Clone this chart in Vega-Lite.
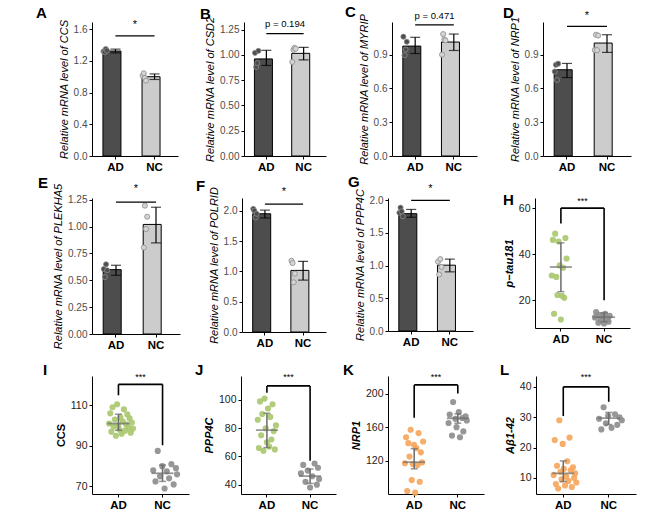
{
"$schema":"https://vega.github.io/schema/vega-lite/v6.json",
"background":"white",
"padding":{"left":36,"top":5,"right":4,"bottom":2},
"config":{
"font":"Liberation Sans",
"view":{"stroke":null},
"axis":{"grid":false,"domainColor":"black","domainWidth":1,"tickColor":"black","tickWidth":1,"tickSize":3,"labelColor":"#4d4d4d","labelFontSize":10,"labelPadding":2,"labelOverlap":false,"titleColor":"black","titleFontSize":11},
"axisX":{"labelAngle":0,"labelColor":"black","labelFontWeight":"bold","labelFontSize":11.5,"labelPadding":2},
"axisY":{"titleFontStyle":"italic","titleFontWeight":"normal","titlePadding":4},
"title":{"anchor":"start","frame":"group","fontSize":15,"fontWeight":"bold","color":"black","offset":3}
},
"datasets":{
"pts":[
{"p":"A","g":"AD","s":1,"v":1.32},{"p":"A","g":"AD","s":2,"v":1.31},{"p":"A","g":"AD","s":3,"v":1.35},{"p":"A","g":"AD","s":4,"v":1.33},
{"p":"A","g":"NC","s":1,"v":1.013},{"p":"A","g":"NC","s":2,"v":1.043},{"p":"A","g":"NC","s":3,"v":0.984},{"p":"A","g":"NC","s":4,"v":0.95},
{"p":"B","g":"AD","s":1,"v":1.02},{"p":"B","g":"AD","s":2,"v":0.88},{"p":"B","g":"AD","s":3,"v":0.92},{"p":"B","g":"AD","s":4,"v":1.04},
{"p":"B","g":"NC","s":1,"v":0.93},{"p":"B","g":"NC","s":2,"v":1.05},{"p":"B","g":"NC","s":3,"v":1.07},{"p":"B","g":"NC","s":4,"v":1.06},
{"p":"C","g":"AD","s":1,"v":1.06},{"p":"C","g":"AD","s":2,"v":0.895},{"p":"C","g":"AD","s":3,"v":0.946},{"p":"C","g":"AD","s":4,"v":1.015},
{"p":"C","g":"NC","s":1,"v":0.9},{"p":"C","g":"NC","s":2,"v":1.083},{"p":"C","g":"NC","s":3,"v":1.036},{"p":"C","g":"NC","s":4,"v":1.027},
{"p":"D","g":"AD","s":1,"v":0.75},{"p":"D","g":"AD","s":2,"v":0.81},{"p":"D","g":"AD","s":3,"v":0.675},{"p":"D","g":"AD","s":4,"v":0.82},
{"p":"D","g":"NC","s":1,"v":0.94},{"p":"D","g":"NC","s":2,"v":1.077},{"p":"D","g":"NC","s":3,"v":0.94},{"p":"D","g":"NC","s":4,"v":1.07},
{"p":"E","g":"AD","s":1,"v":0.605},{"p":"E","g":"AD","s":2,"v":0.53},{"p":"E","g":"AD","s":3,"v":0.649},{"p":"E","g":"AD","s":4,"v":0.593},
{"p":"E","g":"NC","s":1,"v":0.805},{"p":"E","g":"NC","s":2,"v":1.195},{"p":"E","g":"NC","s":3,"v":0.977},{"p":"E","g":"NC","s":4,"v":1.092},
{"p":"F","g":"AD","s":1,"v":2.03},{"p":"F","g":"AD","s":2,"v":2.0},{"p":"F","g":"AD","s":3,"v":1.89},{"p":"F","g":"AD","s":4,"v":1.95},
{"p":"F","g":"NC","s":1,"v":1.176},{"p":"F","g":"NC","s":2,"v":1.137},{"p":"F","g":"NC","s":3,"v":0.82},{"p":"F","g":"NC","s":4,"v":0.962},
{"p":"G","g":"AD","s":1,"v":1.81},{"p":"G","g":"AD","s":2,"v":1.887},{"p":"G","g":"AD","s":3,"v":1.83},{"p":"G","g":"AD","s":4,"v":1.756},
{"p":"G","g":"NC","s":1,"v":1.06},{"p":"G","g":"NC","s":2,"v":0.865},{"p":"G","g":"NC","s":3,"v":1.1},{"p":"G","g":"NC","s":4,"v":0.98},
{"p":"H","g":"AD","s":1,"v":30.7},{"p":"H","g":"AD","s":2,"v":46.2},{"p":"H","g":"AD","s":3,"v":14.1},{"p":"H","g":"AD","s":4,"v":48.9},{"p":"H","g":"AD","s":5,"v":30.1},{"p":"H","g":"AD","s":6,"v":22.2},{"p":"H","g":"AD","s":7,"v":45.5},{"p":"H","g":"AD","s":8,"v":35.1},{"p":"H","g":"AD","s":9,"v":11.6},{"p":"H","g":"AD","s":10,"v":21.9},{"p":"H","g":"AD","s":11,"v":34.1},{"p":"H","g":"AD","s":12,"v":21},{"p":"H","g":"AD","s":13,"v":47},{"p":"H","g":"AD","s":14,"v":38.1},
{"p":"H","g":"NC","s":1,"v":12.5},{"p":"H","g":"NC","s":2,"v":14.8},{"p":"H","g":"NC","s":4,"v":10.2},{"p":"H","g":"NC","s":5,"v":13.6},{"p":"H","g":"NC","s":6,"v":11.4},{"p":"H","g":"NC","s":8,"v":12.9},{"p":"H","g":"NC","s":9,"v":9.9},{"p":"H","g":"NC","s":10,"v":14.1},{"p":"H","g":"NC","s":12,"v":11.8},{"p":"H","g":"NC","s":13,"v":10.6},{"p":"H","g":"NC","s":14,"v":13.2},
{"p":"I","g":"AD","s":1,"v":101},{"p":"I","g":"AD","s":2,"v":106},{"p":"I","g":"AD","s":3,"v":97},{"p":"I","g":"AD","s":4,"v":109},{"p":"I","g":"AD","s":5,"v":99.5},{"p":"I","g":"AD","s":6,"v":103},{"p":"I","g":"AD","s":7,"v":95},{"p":"I","g":"AD","s":8,"v":110.5},{"p":"I","g":"AD","s":9,"v":100},{"p":"I","g":"AD","s":10,"v":98},{"p":"I","g":"AD","s":11,"v":104},{"p":"I","g":"AD","s":12,"v":96},{"p":"I","g":"AD","s":13,"v":102},{"p":"I","g":"AD","s":14,"v":108},{"p":"I","g":"AD","s":15,"v":97.5},{"p":"I","g":"AD","s":16,"v":100.5},{"p":"I","g":"AD","s":17,"v":105.5},{"p":"I","g":"AD","s":18,"v":99},{"p":"I","g":"AD","s":19,"v":103.5},{"p":"I","g":"AD","s":20,"v":96.5},{"p":"I","g":"AD","s":21,"v":101.5},{"p":"I","g":"AD","s":22,"v":98.5},
{"p":"I","g":"NC","s":1,"v":78},{"p":"I","g":"NC","s":3,"v":72.5},{"p":"I","g":"NC","s":5,"v":87.5},{"p":"I","g":"NC","s":7,"v":75},{"p":"I","g":"NC","s":9,"v":80},{"p":"I","g":"NC","s":11,"v":69},{"p":"I","g":"NC","s":13,"v":77.5},{"p":"I","g":"NC","s":15,"v":74},{"p":"I","g":"NC","s":17,"v":81},{"p":"I","g":"NC","s":19,"v":71},{"p":"I","g":"NC","s":21,"v":79},{"p":"I","g":"NC","s":22,"v":76},
{"p":"J","g":"AD","s":1,"v":86},{"p":"J","g":"AD","s":2,"v":66},{"p":"J","g":"AD","s":3,"v":99},{"p":"J","g":"AD","s":4,"v":75},{"p":"J","g":"AD","s":5,"v":90},{"p":"J","g":"AD","s":6,"v":64},{"p":"J","g":"AD","s":7,"v":101},{"p":"J","g":"AD","s":8,"v":80},{"p":"J","g":"AD","s":9,"v":70},{"p":"J","g":"AD","s":10,"v":94},{"p":"J","g":"AD","s":11,"v":67},{"p":"J","g":"AD","s":12,"v":88},{"p":"J","g":"AD","s":13,"v":72},{"p":"J","g":"AD","s":14,"v":97},{"p":"J","g":"AD","s":15,"v":78},{"p":"J","g":"AD","s":16,"v":65},{"p":"J","g":"AD","s":17,"v":82},
{"p":"J","g":"NC","s":1,"v":48},{"p":"J","g":"NC","s":3,"v":54},{"p":"J","g":"NC","s":5,"v":42},{"p":"J","g":"NC","s":7,"v":50},{"p":"J","g":"NC","s":9,"v":38},{"p":"J","g":"NC","s":11,"v":46},{"p":"J","g":"NC","s":13,"v":55},{"p":"J","g":"NC","s":15,"v":40},{"p":"J","g":"NC","s":16,"v":52},{"p":"J","g":"NC","s":17,"v":44},
{"p":"K","g":"AD","s":1,"v":117},{"p":"K","g":"AD","s":2,"v":148},{"p":"K","g":"AD","s":3,"v":84},{"p":"K","g":"AD","s":4,"v":141},{"p":"K","g":"AD","s":5,"v":125},{"p":"K","g":"AD","s":6,"v":157},{"p":"K","g":"AD","s":7,"v":97},{"p":"K","g":"AD","s":8,"v":116},{"p":"K","g":"AD","s":9,"v":139},{"p":"K","g":"AD","s":10,"v":82},{"p":"K","g":"AD","s":11,"v":135},{"p":"K","g":"AD","s":12,"v":115},{"p":"K","g":"AD","s":13,"v":153},{"p":"K","g":"AD","s":14,"v":95},{"p":"K","g":"AD","s":15,"v":130},{"p":"K","g":"AD","s":16,"v":118},{"p":"K","g":"AD","s":17,"v":143},
{"p":"K","g":"NC","s":1,"v":165},{"p":"K","g":"NC","s":2,"v":175},{"p":"K","g":"NC","s":4,"v":150},{"p":"K","g":"NC","s":5,"v":190},{"p":"K","g":"NC","s":7,"v":170},{"p":"K","g":"NC","s":8,"v":160},{"p":"K","g":"NC","s":10,"v":178},{"p":"K","g":"NC","s":11,"v":148},{"p":"K","g":"NC","s":13,"v":171},{"p":"K","g":"NC","s":14,"v":155},{"p":"K","g":"NC","s":16,"v":173},{"p":"K","g":"NC","s":17,"v":168},
{"p":"L","g":"AD","s":1,"v":11},{"p":"L","g":"AD","s":2,"v":22.5},{"p":"L","g":"AD","s":3,"v":8},{"p":"L","g":"AD","s":4,"v":14},{"p":"L","g":"AD","s":5,"v":6.5},{"p":"L","g":"AD","s":6,"v":29},{"p":"L","g":"AD","s":7,"v":12},{"p":"L","g":"AD","s":8,"v":9.5},{"p":"L","g":"AD","s":9,"v":21.2},{"p":"L","g":"AD","s":10,"v":13},{"p":"L","g":"AD","s":11,"v":7.5},{"p":"L","g":"AD","s":12,"v":10.5},{"p":"L","g":"AD","s":13,"v":15.5},{"p":"L","g":"AD","s":14,"v":9},{"p":"L","g":"AD","s":15,"v":23.3},{"p":"L","g":"AD","s":16,"v":12.5},{"p":"L","g":"AD","s":17,"v":7},{"p":"L","g":"AD","s":18,"v":13.5},{"p":"L","g":"AD","s":19,"v":10},{"p":"L","g":"AD","s":20,"v":11.5},{"p":"L","g":"AD","s":21,"v":8.5},
{"p":"L","g":"NC","s":1,"v":29.5},{"p":"L","g":"NC","s":3,"v":26},{"p":"L","g":"NC","s":5,"v":33.3},{"p":"L","g":"NC","s":7,"v":28},{"p":"L","g":"NC","s":9,"v":30.5},{"p":"L","g":"NC","s":12,"v":26.5},{"p":"L","g":"NC","s":15,"v":31},{"p":"L","g":"NC","s":17,"v":27.5},{"p":"L","g":"NC","s":19,"v":30},{"p":"L","g":"NC","s":21,"v":29}
],
"sum":[
{"p":"A","g":"AD","m":1.324,"lo":1.3,"hi":1.348},{"p":"A","g":"NC","m":1.0,"lo":0.965,"hi":1.035},
{"p":"B","g":"AD","m":0.96,"lo":0.895,"hi":1.045},{"p":"B","g":"NC","m":1.015,"lo":0.95,"hi":1.075},
{"p":"C","g":"AD","m":0.976,"lo":0.91,"hi":1.054},{"p":"C","g":"NC","m":1.012,"lo":0.937,"hi":1.083},
{"p":"D","g":"AD","m":0.766,"lo":0.697,"hi":0.822},{"p":"D","g":"NC","m":1.003,"lo":0.92,"hi":1.077},
{"p":"E","g":"AD","m":0.599,"lo":0.546,"hi":0.64},{"p":"E","g":"NC","m":1.02,"lo":0.848,"hi":1.18},
{"p":"F","g":"AD","m":1.95,"lo":1.88,"hi":2.01},{"p":"F","g":"NC","m":1.016,"lo":0.857,"hi":1.165},
{"p":"G","g":"AD","m":1.795,"lo":1.74,"hi":1.86},{"p":"G","g":"NC","m":1.007,"lo":0.905,"hi":1.1},
{"p":"H","g":"AD","m":34.4,"lo":23.7,"hi":44.9},{"p":"H","g":"NC","m":12.6,"lo":10.6,"hi":14.5},
{"p":"I","g":"AD","m":101,"lo":97.7,"hi":105.6},{"p":"I","g":"NC","m":76.5,"lo":72.5,"hi":80.5},
{"p":"J","g":"AD","m":78.6,"lo":66.3,"hi":90.6},{"p":"J","g":"NC","m":46.1,"lo":40.9,"hi":51.1},
{"p":"K","g":"AD","m":118.3,"lo":110.4,"hi":134.4},{"p":"K","g":"NC","m":170.6,"lo":164.7,"hi":175.9},
{"p":"L","g":"AD","m":11.5,"lo":8.8,"hi":15.6},{"p":"L","g":"NC","m":29.7,"lo":27.6,"hi":31.6}
],
"sig":[
{"p":"A","g":"AD","g2":"NC","y":1.516,"ty":1.652,"label":"*"},
{"p":"B","g":"AD","g2":"NC","y":1.21,"ty":1.31,"label":"p = 0.194"},
{"p":"C","g":"AD","g2":"NC","y":1.164,"ty":1.243,"label":"p = 0.471"},
{"p":"D","g":"AD","g2":"NC","y":1.151,"ty":1.24,"label":"*"},
{"p":"E","g":"AD","g2":"NC","y":1.227,"ty":1.351,"label":"*"},
{"p":"F","g":"AD","g2":"NC","y":2.11,"ty":2.306,"label":"*"},
{"p":"G","g":"AD","g2":"NC","y":2.0,"ty":2.168,"label":"*"},
{"p":"H","g":"AD","g2":"NC","y":60,"yl":53.3,"yr":20,"ty":63,"label":"***"},
{"p":"I","g":"AD","g2":"NC","y":120.3,"yl":114.9,"yr":90.3,"ty":123.9,"label":"***"},
{"p":"J","g":"AD","g2":"NC","y":110,"yl":105.2,"yr":57,"ty":116.2,"label":"***"},
{"p":"K","g":"AD","g2":"NC","y":210.4,"yl":171.2,"yr":200,"ty":220,"label":"***"},
{"p":"L","g":"AD","g2":"NC","y":40,"yl":30.4,"yr":35.1,"ty":43.3,"label":"***"}
]
},
"spacing":2,
"resolve":{"scale":{"x":"independent","y":"independent","color":"independent","fill":"independent"}},
"vconcat":[
{"hconcat":[
{"width":86,"height":134,"title":{"text":"A","dx":-56,"offset":-2.3},"layer":[
{"data":{"name":"sum"},"transform":[{"filter":"datum.p==='A'"}],"mark":{"type":"bar","stroke":"black","strokeWidth":1},"encoding":{"x":{"field":"g","type":"nominal","scale":{"domain":["AD","NC"],"paddingInner":0.36,"paddingOuter":0.28},"axis":{"title":null}},"y":{"field":"m","type":"quantitative","scale":{"domain":[0,1.69],"nice":false,"zero":false},"axis":{"title":"Relative mRNA level of CCS","values":[0,0.4,0.8,1.2,1.6],"format":".1f","tickCount":12}},"fill":{"field":"g","type":"nominal","scale":{"domain":["AD","NC"],"range":["#4d4d4d","#cccccc"]},"legend":null}}},
{"data":{"name":"pts"},"transform":[{"filter":"datum.p==='A'"}],"mark":{"type":"point","filled":true,"size":26,"stroke":"#8c8c8c","strokeWidth":0.8,"opacity":1},"encoding":{"x":{"field":"g","type":"nominal"},"xOffset":{"field":"s","type":"ordinal"},"y":{"field":"v","type":"quantitative"},"color":{"field":"g","type":"nominal","scale":{"domain":["AD","NC"],"range":["#4d4d4d","#d4d4d4"]},"legend":null}}},
{"data":{"name":"sum"},"transform":[{"filter":"datum.p==='A'"}],"mark":{"type":"rule","color":"black","strokeWidth":1.2},"encoding":{"x":{"field":"g","type":"nominal"},"y":{"field":"lo","type":"quantitative"},"y2":{"field":"hi"}}},
{"data":{"name":"sum"},"transform":[{"filter":"datum.p==='A'"},{"fold":["lo","hi"],"as":["k","e"]}],"mark":{"type":"tick","orient":"horizontal","size":10,"thickness":1.2,"color":"black"},"encoding":{"x":{"field":"g","type":"nominal"},"y":{"field":"e","type":"quantitative"}}},
{"data":{"name":"sig"},"transform":[{"filter":"datum.p==='A'"}],"mark":{"type":"rule","color":"black","strokeWidth":1.2},"encoding":{"x":{"field":"g","type":"nominal","bandPosition":0.5},"x2":{"field":"g2","bandPosition":0.5},"y":{"field":"y","type":"quantitative"}}},
{"data":{"name":"sig"},"transform":[{"filter":"datum.p==='A'"}],"mark":{"type":"text","baseline":"middle","fontSize":11,"color":"black"},"encoding":{"x":{"field":"g","type":"nominal","bandPosition":1.28125},"y":{"field":"ty","type":"quantitative"},"text":{"field":"label"}}}
]},
{"width":82,"height":134,"title":{"text":"B","dx":-44,"offset":-6},"layer":[
{"data":{"name":"sum"},"transform":[{"filter":"datum.p==='B'"}],"mark":{"type":"bar","stroke":"black","strokeWidth":1},"encoding":{"x":{"field":"g","type":"nominal","scale":{"domain":["AD","NC"],"paddingInner":0.36,"paddingOuter":0.28},"axis":{"title":null}},"y":{"field":"m","type":"quantitative","scale":{"domain":[0,1.325],"nice":false,"zero":false},"axis":{"title":"Relative mRNA level of CSD2","values":[0,0.25,0.5,0.75,1,1.25],"format":".2f","tickCount":12}},"fill":{"field":"g","type":"nominal","scale":{"domain":["AD","NC"],"range":["#4d4d4d","#cccccc"]},"legend":null}}},
{"data":{"name":"pts"},"transform":[{"filter":"datum.p==='B'"}],"mark":{"type":"point","filled":true,"size":26,"stroke":"#8c8c8c","strokeWidth":0.8,"opacity":1},"encoding":{"x":{"field":"g","type":"nominal"},"xOffset":{"field":"s","type":"ordinal"},"y":{"field":"v","type":"quantitative"},"color":{"field":"g","type":"nominal","scale":{"domain":["AD","NC"],"range":["#4d4d4d","#d4d4d4"]},"legend":null}}},
{"data":{"name":"sum"},"transform":[{"filter":"datum.p==='B'"}],"mark":{"type":"rule","color":"black","strokeWidth":1.2},"encoding":{"x":{"field":"g","type":"nominal"},"y":{"field":"lo","type":"quantitative"},"y2":{"field":"hi"}}},
{"data":{"name":"sum"},"transform":[{"filter":"datum.p==='B'"},{"fold":["lo","hi"],"as":["k","e"]}],"mark":{"type":"tick","orient":"horizontal","size":10,"thickness":1.2,"color":"black"},"encoding":{"x":{"field":"g","type":"nominal"},"y":{"field":"e","type":"quantitative"}}},
{"data":{"name":"sig"},"transform":[{"filter":"datum.p==='B'"}],"mark":{"type":"rule","color":"black","strokeWidth":1.2},"encoding":{"x":{"field":"g","type":"nominal","bandPosition":0.5},"x2":{"field":"g2","bandPosition":0.5},"y":{"field":"y","type":"quantitative"}}},
{"data":{"name":"sig"},"transform":[{"filter":"datum.p==='B'"}],"mark":{"type":"text","baseline":"middle","fontSize":9.5,"color":"black"},"encoding":{"x":{"field":"g","type":"nominal","bandPosition":1.28125},"y":{"field":"ty","type":"quantitative"},"text":{"field":"label"}}}
]},
{"width":85,"height":134,"title":{"text":"C","dx":-47,"offset":-9.3},"layer":[
{"data":{"name":"sum"},"transform":[{"filter":"datum.p==='C'"}],"mark":{"type":"bar","stroke":"black","strokeWidth":1},"encoding":{"x":{"field":"g","type":"nominal","scale":{"domain":["AD","NC"],"paddingInner":0.36,"paddingOuter":0.28},"axis":{"title":null}},"y":{"field":"m","type":"quantitative","scale":{"domain":[0,1.19],"nice":false,"zero":false},"axis":{"title":"Relative mRNA level of MYRIP","values":[0,0.3,0.6,0.9],"format":".1f","tickCount":12}},"fill":{"field":"g","type":"nominal","scale":{"domain":["AD","NC"],"range":["#4d4d4d","#cccccc"]},"legend":null}}},
{"data":{"name":"pts"},"transform":[{"filter":"datum.p==='C'"}],"mark":{"type":"point","filled":true,"size":26,"stroke":"#8c8c8c","strokeWidth":0.8,"opacity":1},"encoding":{"x":{"field":"g","type":"nominal"},"xOffset":{"field":"s","type":"ordinal"},"y":{"field":"v","type":"quantitative"},"color":{"field":"g","type":"nominal","scale":{"domain":["AD","NC"],"range":["#4d4d4d","#d4d4d4"]},"legend":null}}},
{"data":{"name":"sum"},"transform":[{"filter":"datum.p==='C'"}],"mark":{"type":"rule","color":"black","strokeWidth":1.2},"encoding":{"x":{"field":"g","type":"nominal"},"y":{"field":"lo","type":"quantitative"},"y2":{"field":"hi"}}},
{"data":{"name":"sum"},"transform":[{"filter":"datum.p==='C'"},{"fold":["lo","hi"],"as":["k","e"]}],"mark":{"type":"tick","orient":"horizontal","size":10,"thickness":1.2,"color":"black"},"encoding":{"x":{"field":"g","type":"nominal"},"y":{"field":"e","type":"quantitative"}}},
{"data":{"name":"sig"},"transform":[{"filter":"datum.p==='C'"}],"mark":{"type":"rule","color":"black","strokeWidth":1.2},"encoding":{"x":{"field":"g","type":"nominal","bandPosition":0.5},"x2":{"field":"g2","bandPosition":0.5},"y":{"field":"y","type":"quantitative"}}},
{"data":{"name":"sig"},"transform":[{"filter":"datum.p==='C'"}],"mark":{"type":"text","baseline":"middle","fontSize":9.5,"color":"black"},"encoding":{"x":{"field":"g","type":"nominal","bandPosition":1.28125},"y":{"field":"ty","type":"quantitative"},"text":{"field":"label"}}}
]},
{"width":88,"height":134,"title":{"text":"D","dx":-40,"offset":-10.3},"layer":[
{"data":{"name":"sum"},"transform":[{"filter":"datum.p==='D'"}],"mark":{"type":"bar","stroke":"black","strokeWidth":1},"encoding":{"x":{"field":"g","type":"nominal","scale":{"domain":["AD","NC"],"paddingInner":0.36,"paddingOuter":0.28},"axis":{"title":null}},"y":{"field":"m","type":"quantitative","scale":{"domain":[0,1.19],"nice":false,"zero":false},"axis":{"title":"Relative mRNA level of NRP1","values":[0,0.3,0.6,0.9],"format":".1f","tickCount":12}},"fill":{"field":"g","type":"nominal","scale":{"domain":["AD","NC"],"range":["#4d4d4d","#cccccc"]},"legend":null}}},
{"data":{"name":"pts"},"transform":[{"filter":"datum.p==='D'"}],"mark":{"type":"point","filled":true,"size":26,"stroke":"#8c8c8c","strokeWidth":0.8,"opacity":1},"encoding":{"x":{"field":"g","type":"nominal"},"xOffset":{"field":"s","type":"ordinal"},"y":{"field":"v","type":"quantitative"},"color":{"field":"g","type":"nominal","scale":{"domain":["AD","NC"],"range":["#4d4d4d","#d4d4d4"]},"legend":null}}},
{"data":{"name":"sum"},"transform":[{"filter":"datum.p==='D'"}],"mark":{"type":"rule","color":"black","strokeWidth":1.2},"encoding":{"x":{"field":"g","type":"nominal"},"y":{"field":"lo","type":"quantitative"},"y2":{"field":"hi"}}},
{"data":{"name":"sum"},"transform":[{"filter":"datum.p==='D'"},{"fold":["lo","hi"],"as":["k","e"]}],"mark":{"type":"tick","orient":"horizontal","size":10,"thickness":1.2,"color":"black"},"encoding":{"x":{"field":"g","type":"nominal"},"y":{"field":"e","type":"quantitative"}}},
{"data":{"name":"sig"},"transform":[{"filter":"datum.p==='D'"}],"mark":{"type":"rule","color":"black","strokeWidth":1.2},"encoding":{"x":{"field":"g","type":"nominal","bandPosition":0.5},"x2":{"field":"g2","bandPosition":0.5},"y":{"field":"y","type":"quantitative"}}},
{"data":{"name":"sig"},"transform":[{"filter":"datum.p==='D'"}],"mark":{"type":"text","baseline":"middle","fontSize":11,"color":"black"},"encoding":{"x":{"field":"g","type":"nominal","bandPosition":1.28125},"y":{"field":"ty","type":"quantitative"},"text":{"field":"label"}}}
]}
],"spacing":66,"bounds":"flush","resolve":{"scale":{"x":"independent","y":"independent","color":"independent","fill":"independent"}}},
{"vconcat":[
{"hconcat":[
{"width":88,"height":136,"title":{"text":"E","dx":-54,"offset":-8},"layer":[
{"data":{"name":"sum"},"transform":[{"filter":"datum.p==='E'"}],"mark":{"type":"bar","stroke":"black","strokeWidth":1},"encoding":{"x":{"field":"g","type":"nominal","scale":{"domain":["AD","NC"],"paddingInner":0.36,"paddingOuter":0.28},"axis":{"title":null}},"y":{"field":"m","type":"quantitative","scale":{"domain":[0,1.266],"nice":false,"zero":false},"axis":{"title":"Relative mRNA level of PLEKHA5","values":[0,0.25,0.5,0.75,1,1.25],"format":".2f","tickCount":12}},"fill":{"field":"g","type":"nominal","scale":{"domain":["AD","NC"],"range":["#4d4d4d","#cccccc"]},"legend":null}}},
{"data":{"name":"pts"},"transform":[{"filter":"datum.p==='E'"}],"mark":{"type":"point","filled":true,"size":26,"stroke":"#8c8c8c","strokeWidth":0.8,"opacity":1},"encoding":{"x":{"field":"g","type":"nominal"},"xOffset":{"field":"s","type":"ordinal"},"y":{"field":"v","type":"quantitative"},"color":{"field":"g","type":"nominal","scale":{"domain":["AD","NC"],"range":["#4d4d4d","#d4d4d4"]},"legend":null}}},
{"data":{"name":"sum"},"transform":[{"filter":"datum.p==='E'"}],"mark":{"type":"rule","color":"black","strokeWidth":1.2},"encoding":{"x":{"field":"g","type":"nominal"},"y":{"field":"lo","type":"quantitative"},"y2":{"field":"hi"}}},
{"data":{"name":"sum"},"transform":[{"filter":"datum.p==='E'"},{"fold":["lo","hi"],"as":["k","e"]}],"mark":{"type":"tick","orient":"horizontal","size":10,"thickness":1.2,"color":"black"},"encoding":{"x":{"field":"g","type":"nominal"},"y":{"field":"e","type":"quantitative"}}},
{"data":{"name":"sig"},"transform":[{"filter":"datum.p==='E'"}],"mark":{"type":"rule","color":"black","strokeWidth":1.2},"encoding":{"x":{"field":"g","type":"nominal","bandPosition":0.5},"x2":{"field":"g2","bandPosition":0.5},"y":{"field":"y","type":"quantitative"}}},
{"data":{"name":"sig"},"transform":[{"filter":"datum.p==='E'"}],"mark":{"type":"text","baseline":"middle","fontSize":11,"color":"black"},"encoding":{"x":{"field":"g","type":"nominal","bandPosition":1.28125},"y":{"field":"ty","type":"quantitative"},"text":{"field":"label"}}}
]},
{"width":84,"height":134,"title":{"text":"F","dx":-46,"offset":-8},"layer":[
{"data":{"name":"sum"},"transform":[{"filter":"datum.p==='F'"}],"mark":{"type":"bar","stroke":"black","strokeWidth":1},"encoding":{"x":{"field":"g","type":"nominal","scale":{"domain":["AD","NC"],"paddingInner":0.36,"paddingOuter":0.28},"axis":{"title":null}},"y":{"field":"m","type":"quantitative","scale":{"domain":[0,2.21],"nice":false,"zero":false},"axis":{"title":"Relative mRNA level of POLRID","values":[0,0.5,1,1.5,2],"format":".1f","tickCount":12}},"fill":{"field":"g","type":"nominal","scale":{"domain":["AD","NC"],"range":["#4d4d4d","#cccccc"]},"legend":null}}},
{"data":{"name":"pts"},"transform":[{"filter":"datum.p==='F'"}],"mark":{"type":"point","filled":true,"size":26,"stroke":"#8c8c8c","strokeWidth":0.8,"opacity":1},"encoding":{"x":{"field":"g","type":"nominal"},"xOffset":{"field":"s","type":"ordinal"},"y":{"field":"v","type":"quantitative"},"color":{"field":"g","type":"nominal","scale":{"domain":["AD","NC"],"range":["#4d4d4d","#d4d4d4"]},"legend":null}}},
{"data":{"name":"sum"},"transform":[{"filter":"datum.p==='F'"}],"mark":{"type":"rule","color":"black","strokeWidth":1.2},"encoding":{"x":{"field":"g","type":"nominal"},"y":{"field":"lo","type":"quantitative"},"y2":{"field":"hi"}}},
{"data":{"name":"sum"},"transform":[{"filter":"datum.p==='F'"},{"fold":["lo","hi"],"as":["k","e"]}],"mark":{"type":"tick","orient":"horizontal","size":10,"thickness":1.2,"color":"black"},"encoding":{"x":{"field":"g","type":"nominal"},"y":{"field":"e","type":"quantitative"}}},
{"data":{"name":"sig"},"transform":[{"filter":"datum.p==='F'"}],"mark":{"type":"rule","color":"black","strokeWidth":1.2},"encoding":{"x":{"field":"g","type":"nominal","bandPosition":0.5},"x2":{"field":"g2","bandPosition":0.5},"y":{"field":"y","type":"quantitative"}}},
{"data":{"name":"sig"},"transform":[{"filter":"datum.p==='F'"}],"mark":{"type":"text","baseline":"middle","fontSize":11,"color":"black"},"encoding":{"x":{"field":"g","type":"nominal","bandPosition":1.28125},"y":{"field":"ty","type":"quantitative"},"text":{"field":"label"}}}
]},
{"width":85,"height":133,"title":{"text":"G","dx":-40,"offset":-7},"layer":[
{"data":{"name":"sum"},"transform":[{"filter":"datum.p==='G'"}],"mark":{"type":"bar","stroke":"black","strokeWidth":1},"encoding":{"x":{"field":"g","type":"nominal","scale":{"domain":["AD","NC"],"paddingInner":0.36,"paddingOuter":0.28},"axis":{"title":null}},"y":{"field":"m","type":"quantitative","scale":{"domain":[0,2.035],"nice":false,"zero":false},"axis":{"title":"Relative mRNA level of PPP4C","values":[0,0.5,1,1.5,2],"format":".1f","tickCount":12}},"fill":{"field":"g","type":"nominal","scale":{"domain":["AD","NC"],"range":["#4d4d4d","#cccccc"]},"legend":null}}},
{"data":{"name":"pts"},"transform":[{"filter":"datum.p==='G'"}],"mark":{"type":"point","filled":true,"size":26,"stroke":"#8c8c8c","strokeWidth":0.8,"opacity":1},"encoding":{"x":{"field":"g","type":"nominal"},"xOffset":{"field":"s","type":"ordinal"},"y":{"field":"v","type":"quantitative"},"color":{"field":"g","type":"nominal","scale":{"domain":["AD","NC"],"range":["#4d4d4d","#d4d4d4"]},"legend":null}}},
{"data":{"name":"sum"},"transform":[{"filter":"datum.p==='G'"}],"mark":{"type":"rule","color":"black","strokeWidth":1.2},"encoding":{"x":{"field":"g","type":"nominal"},"y":{"field":"lo","type":"quantitative"},"y2":{"field":"hi"}}},
{"data":{"name":"sum"},"transform":[{"filter":"datum.p==='G'"},{"fold":["lo","hi"],"as":["k","e"]}],"mark":{"type":"tick","orient":"horizontal","size":10,"thickness":1.2,"color":"black"},"encoding":{"x":{"field":"g","type":"nominal"},"y":{"field":"e","type":"quantitative"}}},
{"data":{"name":"sig"},"transform":[{"filter":"datum.p==='G'"}],"mark":{"type":"rule","color":"black","strokeWidth":1.2},"encoding":{"x":{"field":"g","type":"nominal","bandPosition":0.5},"x2":{"field":"g2","bandPosition":0.5},"y":{"field":"y","type":"quantitative"}}},
{"data":{"name":"sig"},"transform":[{"filter":"datum.p==='G'"}],"mark":{"type":"text","baseline":"middle","fontSize":11,"color":"black"},"encoding":{"x":{"field":"g","type":"nominal","bandPosition":1.28125},"y":{"field":"ty","type":"quantitative"},"text":{"field":"label"}}}
]},
{"width":95,"height":130,"title":{"text":"H","dx":-32,"offset":-11},"layer":[
{"data":{"name":"pts"},"transform":[{"filter":"datum.p==='H'"}],"mark":{"type":"circle","size":38,"opacity":0.9},"encoding":{"x":{"field":"g","type":"nominal","scale":{"domain":["AD","NC"],"paddingInner":0.55,"paddingOuter":0.375},"axis":{"title":null}},"xOffset":{"field":"s","type":"ordinal"},"y":{"field":"v","type":"quantitative","scale":{"domain":[7.9,64.4],"nice":false,"zero":false},"axis":{"title":"p−tau181","values":[20,40,60],"labelColor":"#222222","labelFontSize":10.5,"titleFontWeight":"bold","tickCount":12}},"color":{"field":"g","type":"nominal","scale":{"domain":["AD","NC"],"range":["#a8c66c","#8c8c8c"]},"legend":null}}},
{"data":{"name":"sum"},"transform":[{"filter":"datum.p==='H'"}],"mark":{"type":"rule","color":"#6b6b6b","strokeWidth":1.5},"encoding":{"x":{"field":"g","type":"nominal"},"y":{"field":"lo","type":"quantitative"},"y2":{"field":"hi"}}},
{"data":{"name":"sum"},"transform":[{"filter":"datum.p==='H'"},{"fold":["lo","hi"],"as":["k","e"]}],"mark":{"type":"tick","orient":"horizontal","size":7,"thickness":1.5,"color":"#6b6b6b"},"encoding":{"x":{"field":"g","type":"nominal"},"y":{"field":"e","type":"quantitative"}}},
{"data":{"name":"sum"},"transform":[{"filter":"datum.p==='H'"}],"mark":{"type":"tick","orient":"horizontal","size":22,"thickness":1.8,"color":"#6b6b6b"},"encoding":{"x":{"field":"g","type":"nominal"},"y":{"field":"m","type":"quantitative"}}},
{"data":{"name":"sig"},"transform":[{"filter":"datum.p==='H'"}],"mark":{"type":"rule","color":"black","strokeWidth":1.6},"encoding":{"x":{"field":"g","type":"nominal","bandPosition":0.5},"x2":{"field":"g2","bandPosition":0.5},"y":{"field":"y","type":"quantitative"}}},
{"data":{"name":"sig"},"transform":[{"filter":"datum.p==='H'"}],"mark":{"type":"rule","color":"black","strokeWidth":1.6},"encoding":{"x":{"field":"g","type":"nominal","bandPosition":0.5},"y":{"field":"y","type":"quantitative"},"y2":{"field":"yl"}}},
{"data":{"name":"sig"},"transform":[{"filter":"datum.p==='H'"}],"mark":{"type":"rule","color":"black","strokeWidth":1.6},"encoding":{"x":{"field":"g2","type":"nominal","bandPosition":0.5},"y":{"field":"y","type":"quantitative"},"y2":{"field":"yr"}}},
{"data":{"name":"sig"},"transform":[{"filter":"datum.p==='H'"}],"mark":{"type":"text","baseline":"middle","fontSize":9,"color":"black"},"encoding":{"x":{"field":"g","type":"nominal","bandPosition":1.6111},"y":{"field":"ty","type":"quantitative"},"text":{"field":"label"}}}
]}
],"spacing":62,"bounds":"flush","resolve":{"scale":{"x":"independent","y":"independent","color":"independent","fill":"independent"}}},
{"hconcat":[
{"width":97,"height":118,"title":{"text":"I","dx":-49,"offset":-5},"layer":[
{"data":{"name":"pts"},"transform":[{"filter":"datum.p==='I'"}],"mark":{"type":"circle","size":38,"opacity":0.9},"encoding":{"x":{"field":"g","type":"nominal","scale":{"domain":["AD","NC"],"paddingInner":0.55,"paddingOuter":0.375},"axis":{"title":null}},"xOffset":{"field":"s","type":"ordinal"},"y":{"field":"v","type":"quantitative","scale":{"domain":[66.3,124.4],"nice":false,"zero":false},"axis":{"title":"CCS","values":[70,90,110],"labelColor":"#222222","labelFontSize":10.5,"titleFontWeight":"bold","titleFontStyle":"normal","tickCount":12}},"color":{"field":"g","type":"nominal","scale":{"domain":["AD","NC"],"range":["#a8c66c","#8c8c8c"]},"legend":null}}},
{"data":{"name":"sum"},"transform":[{"filter":"datum.p==='I'"}],"mark":{"type":"rule","color":"#6b6b6b","strokeWidth":1.5},"encoding":{"x":{"field":"g","type":"nominal"},"y":{"field":"lo","type":"quantitative"},"y2":{"field":"hi"}}},
{"data":{"name":"sum"},"transform":[{"filter":"datum.p==='I'"},{"fold":["lo","hi"],"as":["k","e"]}],"mark":{"type":"tick","orient":"horizontal","size":7,"thickness":1.5,"color":"#6b6b6b"},"encoding":{"x":{"field":"g","type":"nominal"},"y":{"field":"e","type":"quantitative"}}},
{"data":{"name":"sum"},"transform":[{"filter":"datum.p==='I'"}],"mark":{"type":"tick","orient":"horizontal","size":22,"thickness":1.8,"color":"#6b6b6b"},"encoding":{"x":{"field":"g","type":"nominal"},"y":{"field":"m","type":"quantitative"}}},
{"data":{"name":"sig"},"transform":[{"filter":"datum.p==='I'"}],"mark":{"type":"rule","color":"black","strokeWidth":1.6},"encoding":{"x":{"field":"g","type":"nominal","bandPosition":0.5},"x2":{"field":"g2","bandPosition":0.5},"y":{"field":"y","type":"quantitative"}}},
{"data":{"name":"sig"},"transform":[{"filter":"datum.p==='I'"}],"mark":{"type":"rule","color":"black","strokeWidth":1.6},"encoding":{"x":{"field":"g","type":"nominal","bandPosition":0.5},"y":{"field":"y","type":"quantitative"},"y2":{"field":"yl"}}},
{"data":{"name":"sig"},"transform":[{"filter":"datum.p==='I'"}],"mark":{"type":"rule","color":"black","strokeWidth":1.6},"encoding":{"x":{"field":"g2","type":"nominal","bandPosition":0.5},"y":{"field":"y","type":"quantitative"},"y2":{"field":"yr"}}},
{"data":{"name":"sig"},"transform":[{"filter":"datum.p==='I'"}],"mark":{"type":"text","baseline":"middle","fontSize":9,"color":"black"},"encoding":{"x":{"field":"g","type":"nominal","bandPosition":1.6111},"y":{"field":"ty","type":"quantitative"},"text":{"field":"label"}}}
]},
{"width":95,"height":118,"title":{"text":"J","dx":-46,"offset":-5},"layer":[
{"data":{"name":"pts"},"transform":[{"filter":"datum.p==='J'"}],"mark":{"type":"circle","size":38,"opacity":0.9},"encoding":{"x":{"field":"g","type":"nominal","scale":{"domain":["AD","NC"],"paddingInner":0.55,"paddingOuter":0.375},"axis":{"title":null}},"xOffset":{"field":"s","type":"ordinal"},"y":{"field":"v","type":"quantitative","scale":{"domain":[33.4,117],"nice":false,"zero":false},"axis":{"title":"PPP4C","values":[40,60,80,100],"labelColor":"#222222","labelFontSize":10.5,"titleFontWeight":"bold","tickCount":12}},"color":{"field":"g","type":"nominal","scale":{"domain":["AD","NC"],"range":["#a8c66c","#8c8c8c"]},"legend":null}}},
{"data":{"name":"sum"},"transform":[{"filter":"datum.p==='J'"}],"mark":{"type":"rule","color":"#6b6b6b","strokeWidth":1.5},"encoding":{"x":{"field":"g","type":"nominal"},"y":{"field":"lo","type":"quantitative"},"y2":{"field":"hi"}}},
{"data":{"name":"sum"},"transform":[{"filter":"datum.p==='J'"},{"fold":["lo","hi"],"as":["k","e"]}],"mark":{"type":"tick","orient":"horizontal","size":7,"thickness":1.5,"color":"#6b6b6b"},"encoding":{"x":{"field":"g","type":"nominal"},"y":{"field":"e","type":"quantitative"}}},
{"data":{"name":"sum"},"transform":[{"filter":"datum.p==='J'"}],"mark":{"type":"tick","orient":"horizontal","size":22,"thickness":1.8,"color":"#6b6b6b"},"encoding":{"x":{"field":"g","type":"nominal"},"y":{"field":"m","type":"quantitative"}}},
{"data":{"name":"sig"},"transform":[{"filter":"datum.p==='J'"}],"mark":{"type":"rule","color":"black","strokeWidth":1.6},"encoding":{"x":{"field":"g","type":"nominal","bandPosition":0.5},"x2":{"field":"g2","bandPosition":0.5},"y":{"field":"y","type":"quantitative"}}},
{"data":{"name":"sig"},"transform":[{"filter":"datum.p==='J'"}],"mark":{"type":"rule","color":"black","strokeWidth":1.6},"encoding":{"x":{"field":"g","type":"nominal","bandPosition":0.5},"y":{"field":"y","type":"quantitative"},"y2":{"field":"yl"}}},
{"data":{"name":"sig"},"transform":[{"filter":"datum.p==='J'"}],"mark":{"type":"rule","color":"black","strokeWidth":1.6},"encoding":{"x":{"field":"g2","type":"nominal","bandPosition":0.5},"y":{"field":"y","type":"quantitative"},"y2":{"field":"yr"}}},
{"data":{"name":"sig"},"transform":[{"filter":"datum.p==='J'"}],"mark":{"type":"text","baseline":"middle","fontSize":9,"color":"black"},"encoding":{"x":{"field":"g","type":"nominal","bandPosition":1.6111},"y":{"field":"ty","type":"quantitative"},"text":{"field":"label"}}}
]},
{"width":96,"height":118,"title":{"text":"K","dx":-45,"offset":-5},"layer":[
{"data":{"name":"pts"},"transform":[{"filter":"datum.p==='K'"}],"mark":{"type":"circle","size":38,"opacity":0.9},"encoding":{"x":{"field":"g","type":"nominal","scale":{"domain":["AD","NC"],"paddingInner":0.55,"paddingOuter":0.375},"axis":{"title":null}},"xOffset":{"field":"s","type":"ordinal"},"y":{"field":"v","type":"quantitative","scale":{"domain":[80.4,221],"nice":false,"zero":false},"axis":{"title":"NRP1","values":[120,160,200],"labelColor":"#222222","labelFontSize":10.5,"titleFontWeight":"bold","tickCount":12}},"color":{"field":"g","type":"nominal","scale":{"domain":["AD","NC"],"range":["#f5a55a","#8c8c8c"]},"legend":null}}},
{"data":{"name":"sum"},"transform":[{"filter":"datum.p==='K'"}],"mark":{"type":"rule","color":"#6b6b6b","strokeWidth":1.5},"encoding":{"x":{"field":"g","type":"nominal"},"y":{"field":"lo","type":"quantitative"},"y2":{"field":"hi"}}},
{"data":{"name":"sum"},"transform":[{"filter":"datum.p==='K'"},{"fold":["lo","hi"],"as":["k","e"]}],"mark":{"type":"tick","orient":"horizontal","size":7,"thickness":1.5,"color":"#6b6b6b"},"encoding":{"x":{"field":"g","type":"nominal"},"y":{"field":"e","type":"quantitative"}}},
{"data":{"name":"sum"},"transform":[{"filter":"datum.p==='K'"}],"mark":{"type":"tick","orient":"horizontal","size":22,"thickness":1.8,"color":"#6b6b6b"},"encoding":{"x":{"field":"g","type":"nominal"},"y":{"field":"m","type":"quantitative"}}},
{"data":{"name":"sig"},"transform":[{"filter":"datum.p==='K'"}],"mark":{"type":"rule","color":"black","strokeWidth":1.6},"encoding":{"x":{"field":"g","type":"nominal","bandPosition":0.5},"x2":{"field":"g2","bandPosition":0.5},"y":{"field":"y","type":"quantitative"}}},
{"data":{"name":"sig"},"transform":[{"filter":"datum.p==='K'"}],"mark":{"type":"rule","color":"black","strokeWidth":1.6},"encoding":{"x":{"field":"g","type":"nominal","bandPosition":0.5},"y":{"field":"y","type":"quantitative"},"y2":{"field":"yl"}}},
{"data":{"name":"sig"},"transform":[{"filter":"datum.p==='K'"}],"mark":{"type":"rule","color":"black","strokeWidth":1.6},"encoding":{"x":{"field":"g2","type":"nominal","bandPosition":0.5},"y":{"field":"y","type":"quantitative"},"y2":{"field":"yr"}}},
{"data":{"name":"sig"},"transform":[{"filter":"datum.p==='K'"}],"mark":{"type":"text","baseline":"middle","fontSize":9,"color":"black"},"encoding":{"x":{"field":"g","type":"nominal","bandPosition":1.6111},"y":{"field":"ty","type":"quantitative"},"text":{"field":"label"}}}
]},
{"width":100,"height":118,"title":{"text":"L","dx":-36,"offset":-5},"layer":[
{"data":{"name":"pts"},"transform":[{"filter":"datum.p==='L'"}],"mark":{"type":"circle","size":38,"opacity":0.9},"encoding":{"x":{"field":"g","type":"nominal","scale":{"domain":["AD","NC"],"paddingInner":0.55,"paddingOuter":0.375},"axis":{"title":null}},"xOffset":{"field":"s","type":"ordinal"},"y":{"field":"v","type":"quantitative","scale":{"domain":[4.7,43.6],"nice":false,"zero":false},"axis":{"title":"Aβ1-42","values":[10,20,30,40],"labelColor":"#222222","labelFontSize":10.5,"titleFontWeight":"bold","tickCount":12}},"color":{"field":"g","type":"nominal","scale":{"domain":["AD","NC"],"range":["#f5a55a","#8c8c8c"]},"legend":null}}},
{"data":{"name":"sum"},"transform":[{"filter":"datum.p==='L'"}],"mark":{"type":"rule","color":"#6b6b6b","strokeWidth":1.5},"encoding":{"x":{"field":"g","type":"nominal"},"y":{"field":"lo","type":"quantitative"},"y2":{"field":"hi"}}},
{"data":{"name":"sum"},"transform":[{"filter":"datum.p==='L'"},{"fold":["lo","hi"],"as":["k","e"]}],"mark":{"type":"tick","orient":"horizontal","size":7,"thickness":1.5,"color":"#6b6b6b"},"encoding":{"x":{"field":"g","type":"nominal"},"y":{"field":"e","type":"quantitative"}}},
{"data":{"name":"sum"},"transform":[{"filter":"datum.p==='L'"}],"mark":{"type":"tick","orient":"horizontal","size":22,"thickness":1.8,"color":"#6b6b6b"},"encoding":{"x":{"field":"g","type":"nominal"},"y":{"field":"m","type":"quantitative"}}},
{"data":{"name":"sig"},"transform":[{"filter":"datum.p==='L'"}],"mark":{"type":"rule","color":"black","strokeWidth":1.6},"encoding":{"x":{"field":"g","type":"nominal","bandPosition":0.5},"x2":{"field":"g2","bandPosition":0.5},"y":{"field":"y","type":"quantitative"}}},
{"data":{"name":"sig"},"transform":[{"filter":"datum.p==='L'"}],"mark":{"type":"rule","color":"black","strokeWidth":1.6},"encoding":{"x":{"field":"g","type":"nominal","bandPosition":0.5},"y":{"field":"y","type":"quantitative"},"y2":{"field":"yl"}}},
{"data":{"name":"sig"},"transform":[{"filter":"datum.p==='L'"}],"mark":{"type":"rule","color":"black","strokeWidth":1.6},"encoding":{"x":{"field":"g2","type":"nominal","bandPosition":0.5},"y":{"field":"y","type":"quantitative"},"y2":{"field":"yr"}}},
{"data":{"name":"sig"},"transform":[{"filter":"datum.p==='L'"}],"mark":{"type":"text","baseline":"middle","fontSize":9,"color":"black"},"encoding":{"x":{"field":"g","type":"nominal","bandPosition":1.6111},"y":{"field":"ty","type":"quantitative"},"text":{"field":"label"}}}
]}
],"spacing":52,"bounds":"flush","resolve":{"scale":{"x":"independent","y":"independent","color":"independent","fill":"independent"}}}
],"spacing":11,"resolve":{"scale":{"x":"independent","y":"independent","color":"independent","fill":"independent"}}}
]
}
